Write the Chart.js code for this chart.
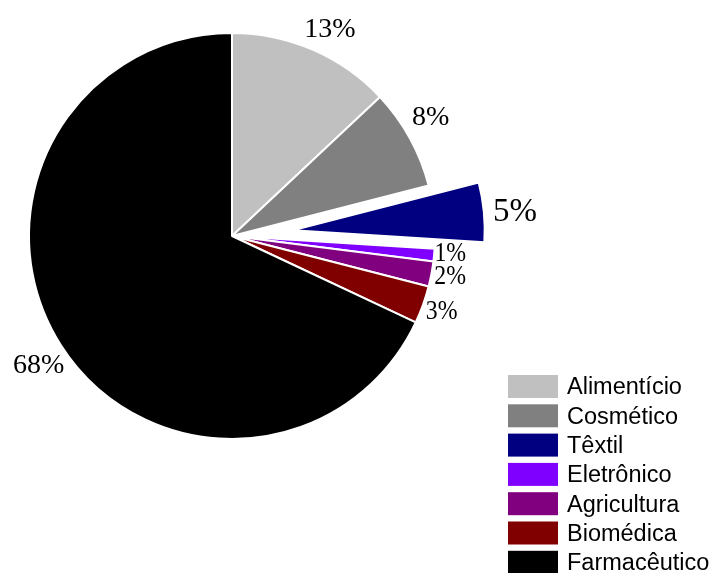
<!DOCTYPE html>
<html>
<head>
<meta charset="utf-8">
<script src="https://cdn.jsdelivr.net/npm/chart.js@4.4.0/dist/chart.umd.min.js"></script>
<style>
  html, body { margin: 0; padding: 0; background: #ffffff; }
  #wrap { width: 714px; height: 573px; }
</style>
</head>
<body>
<div id="wrap"><canvas id="c" width="714" height="573"></canvas></div>
<script>
// Sector shares (%) of the market
const sectors = ['Alimentício', 'Cosmético', 'Têxtil', 'Eletrônico', 'Agricultura', 'Biomédica', 'Farmacêutico'];
const shares = [13, 8, 5, 1, 2, 3, 68];
const sectorColors = ['#c0c0c0', '#808080', '#000080', '#8000ff', '#800080', '#800000', '#000000'];

// Têxtil is pulled out of the pie: shift of its apex (px) and its own radius
const pullShift = [0, 0, 61, 0, 0, 0, 0];
const pulledRadius = 192;

// Percentage label placement: distance from the pie centre, angular nudge (deg),
// font size and horizontal squeeze
const labelDist = [228, 231, 284, 219, 222, 223, 233];
const labelTurn = [2, -1.9, 0.6, -0.8, -0.2, 0.1, -1.5];
const labelSize = [28, 28, 33, 28, 28, 28, 28];
const labelSqueeze = [1, 1, 1, 0.85, 0.85, 0.85, 1];

function pieCentre(chart) {
  const a = chart.chartArea;
  return { x: (a.left + a.right) / 2, y: (a.top + a.bottom) / 2 };
}

// Move the exploded slice outwards and keep it a little smaller than the pie
const explodeSlice = {
  id: 'explodeSlice',
  beforeDatasetsDraw(chart) {
    const c = pieCentre(chart);
    chart.getDatasetMeta(0).data.forEach((arc, i) => {
      if (!pullShift[i]) return;
      const mid = (arc.startAngle + arc.endAngle) / 2;
      arc.x = c.x + Math.cos(mid) * pullShift[i];
      arc.y = c.y + Math.sin(mid) * pullShift[i];
      arc.outerRadius = pulledRadius;
    });
  }
};

// Percentage labels outside each slice
const pctLabels = {
  id: 'pctLabels',
  afterDatasetsDraw(chart) {
    const ctx = chart.ctx;
    const c = pieCentre(chart);
    ctx.fillStyle = '#000000';
    ctx.textAlign = 'center';
    ctx.textBaseline = 'middle';
    chart.getDatasetMeta(0).data.forEach((arc, i) => {
      const a = (arc.startAngle + arc.endAngle) / 2 + labelTurn[i] * Math.PI / 180;
      const lx = c.x + Math.cos(a) * labelDist[i];
      const ly = c.y + Math.sin(a) * labelDist[i];
      ctx.save();
      ctx.translate(lx, ly);
      ctx.scale(labelSqueeze[i], 1);
      ctx.font = labelSize[i] + 'px "Liberation Serif", "Times New Roman", serif';
      ctx.fillText(shares[i] + '%', 0, 0);
      ctx.restore();
    });
  }
};

// Legend block at the lower right
const sideLegend = {
  id: 'sideLegend',
  afterDraw(chart) {
    const ctx = chart.ctx;
    ctx.save();
    ctx.font = '23.5px "Liberation Sans", Arial, sans-serif';
    ctx.textAlign = 'left';
    ctx.textBaseline = 'middle';
    chart.data.labels.forEach((name, i) => {
      const top = 375 + i * 29.3;
      ctx.fillStyle = chart.data.datasets[0].backgroundColor[i];
      ctx.fillRect(508, top, 50, 23);
      ctx.fillStyle = '#000000';
      ctx.fillText(name, 567, top + 13);
    });
    ctx.restore();
  }
};

new Chart(document.getElementById('c'), {
  type: 'pie',
  data: {
    labels: sectors,
    datasets: [{
      data: shares,
      backgroundColor: sectorColors,
      borderColor: '#ffffff',
      borderWidth: 2,
      radius: 203
    }]
  },
  options: {
    responsive: false,
    animation: false,
    events: [],
    layout: { padding: { left: 0, right: 250, top: 20, bottom: 121 } },
    plugins: {
      legend: { display: false },
      tooltip: { enabled: false }
    }
  },
  plugins: [explodeSlice, pctLabels, sideLegend]
});
</script>
</body>
</html>
